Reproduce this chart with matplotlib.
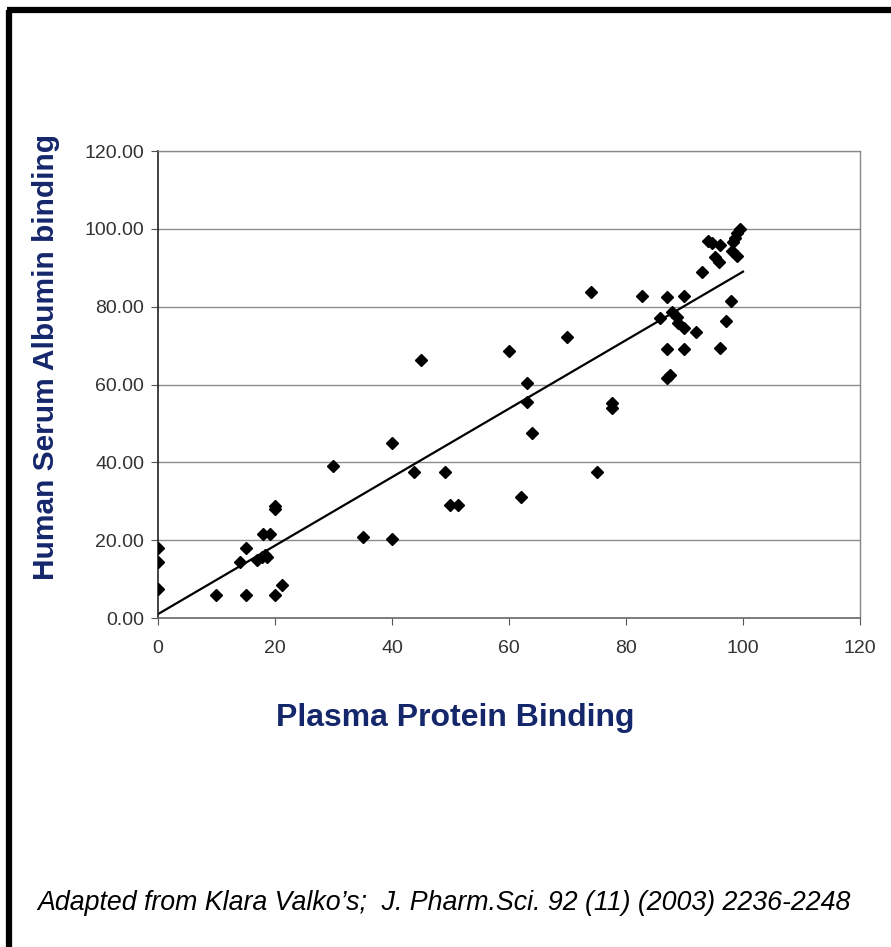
import matplotlib
matplotlib.use('Agg')
import matplotlib.pyplot as plt
import numpy as np
from matplotlib.lines import Line2D

# values
ppb = [0, 0, 0, 10, 15, 15, 14, 17, 17.8, 18.3, 18.6, 18, 19.1, 20, 20, 20, 21.2,
       30, 35, 40, 40, 43.8, 45, 49, 50, 51.3,
       60, 62, 63, 63, 64, 70, 74, 75, 77.6, 77.6,
       82.8, 87, 90, 85.8, 87.9, 88.7, 88.9, 89.9, 92, 87, 90, 87, 87.5,
       93, 94, 94.7, 96, 95.2, 95.9, 98.1, 99, 99.5, 99, 98.6, 98.3, 98, 97.1, 96]
hsa = [18, 14.4, 7.5, 5.9, 5.9, 18, 14.4, 14.9, 15.7, 16.2, 15.7, 21.6, 21.6, 28.8, 28, 5.9, 8.5,
       39, 20.8, 20.3, 45, 37.5, 66.3, 37.5, 29, 29,
       68.6, 31.1, 60.4, 55.5, 47.6, 72.2, 83.8, 37.5, 55.3, 54,
       82.8, 82.5, 82.8, 77, 78.7, 77.4, 75.8, 74.5, 73.5, 69.2, 69.2, 61.7, 62.5,
       89, 96.9, 96.4, 95.9, 92.8, 91.5, 94.3, 93.1, 100, 99, 97.7, 96.7, 81.5, 76.3, 69.4]
fit_x = [0, 100]
fit_slope = 0.88
fit_intercept = 1.0

xticks = [0, 20, 40, 60, 80, 100, 120]
yticks = [0, 20, 40, 60, 80, 100, 120]

navy = '#15276b'
plt.rcParams['font.family'] = ['Liberation Sans', 'DejaVu Sans']

fig = plt.figure(figsize=(8.91, 9.47), dpi=100)
ax = fig.add_axes([0.1773, 0.3474, 0.7879, 0.4931])

for yv in yticks[1:-1]:
    ax.axhline(yv, color='#8c8c8c', lw=1.0, zorder=1)
ax.axhline(120, color='#8c8c8c', lw=1.0, ls=(0, (1, 1)), zorder=1)

ax.plot(ppb, hsa, 'D', color='black', ms=6.5, zorder=3)
fx = np.array(fit_x)
ax.plot(fx, fit_slope * fx + fit_intercept, color='black', lw=1.6, zorder=2)

ax.set_xlim(0, 120)
ax.set_ylim(0, 120)
ax.set_xticks(xticks)
ax.set_yticks(yticks)
ax.set_xticklabels([str(v) for v in xticks])
ax.set_yticklabels([f'{v:.2f}' for v in yticks])
ax.tick_params(direction='out', length=5, width=0.8, color='#555555',
               labelsize=14, labelcolor='#333333', pad=11)
ax.tick_params(axis='y', pad=5)

ax.spines['left'].set_color('#222222')
ax.spines['left'].set_linewidth(1.2)
ax.spines['bottom'].set_color('#666666')
ax.spines['bottom'].set_linewidth(1.2)
for s in ['top', 'right']:
    ax.spines[s].set_color('#888888')
    ax.spines[s].set_linestyle((0, (1, 1)))
    ax.spines[s].set_linewidth(1.0)

fig.text(0.511, 0.2418, 'Plasma Protein Binding', fontsize=23, fontweight='bold',
         color=navy, ha='center', va='center')
fig.text(0.0515, 0.623, 'Human Serum Albumin binding', fontsize=21.5, fontweight='bold',
         color=navy, ha='center', va='center', rotation=90)
fig.text(0.0415, 0.0465, 'Adapted from Klara Valko\u2019s;  J. Pharm.Sci. 92 (11) (2003) 2236-2248',
         fontsize=19.3, style='italic', color='black', ha='left', va='center')

# page frame: left and top edges
fig.add_artist(Line2D([0.0101, 0.0101], [0.0, 0.9897], transform=fig.transFigure,
                      color='black', lw=4.5, solid_capstyle='butt'))
fig.add_artist(Line2D([0.0075, 1.0], [0.9897, 0.9897], transform=fig.transFigure,
                      color='black', lw=4.5, solid_capstyle='butt'))

fig.savefig('out.png', dpi=100)
